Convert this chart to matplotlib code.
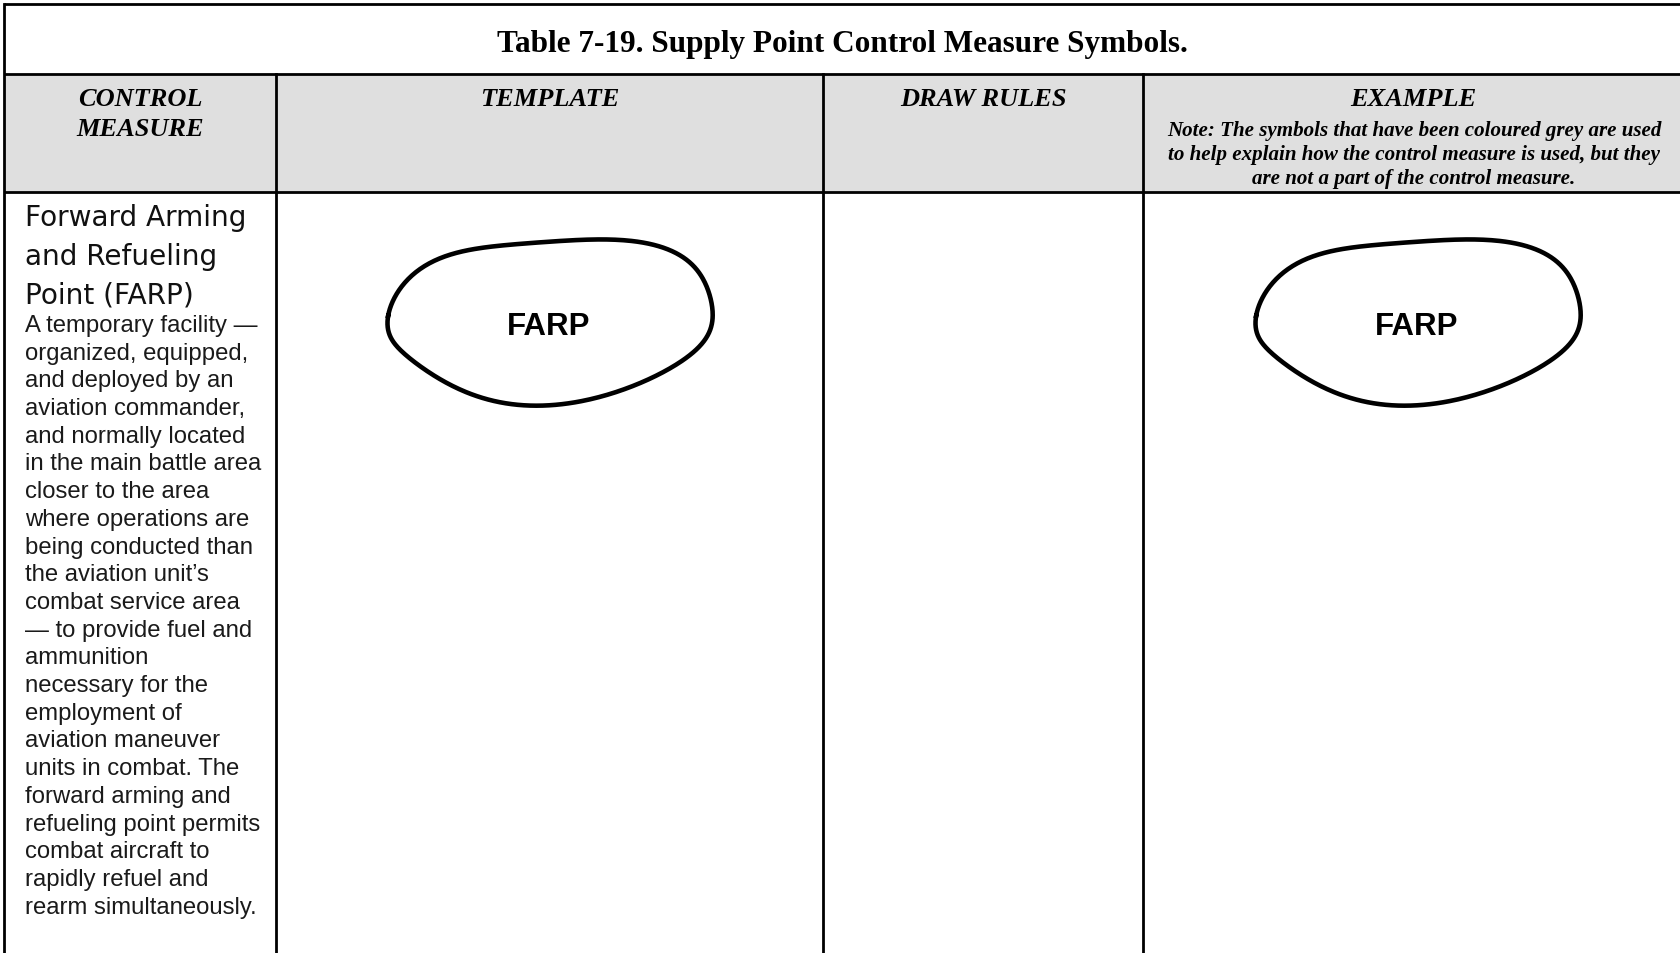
import numpy as np
import matplotlib
matplotlib.use("Agg")
import matplotlib.pyplot as plt

# ---- table content ----
title = "Table 7-19. Supply Point Control Measure Symbols."
headers = ["CONTROL", "TEMPLATE", "DRAW RULES", "EXAMPLE"]
header_second = "MEASURE"
note_lines = [
    "Note: The symbols that have been coloured grey are used",
    "to help explain how the control measure is used, but they",
    "are not a part of the control measure.",
]
measure_name = ["Forward Arming", "and Refueling", "Point (FARP)"]
measure_desc = [
    "A temporary facility \u2014",
    "organized, equipped,",
    "and deployed by an",
    "aviation commander,",
    "and normally located",
    "in the main battle area",
    "closer to the area",
    "where operations are",
    "being conducted than",
    "the aviation unit\u2019s",
    "combat service area",
    "\u2014 to provide fuel and",
    "ammunition",
    "necessary for the",
    "employment of",
    "aviation maneuver",
    "units in combat. The",
    "forward arming and",
    "refueling point permits",
    "combat aircraft to",
    "rapidly refuel and",
    "rearm simultaneously.",
]
symbol_label = "FARP"

# outline of the irregular area symbol, offsets from its label centre (px)
blob_x = [-161, -128, -50, 40, 118, 155, 163, 135, 60, -25, -100, -148]
blob_y = [-5, -55, -76, -82, -74, -40, 0, 38, 72, 84, 62, 28]

# ---- layout (pixels) ----
W, H = 1681, 954
col_x = [4, 276, 823, 1143, 1683]
row_y = [5, 75, 193]
header_bg = "#dfdfdf"
line_w = 2.0
serif = "Liberation Serif"


def closed_spline(xs, ys, n=40, keep=6):
    p = np.column_stack([xs, ys]).astype(float)
    m = len(p)
    t = np.linspace(0, 1, n, endpoint=False)[:, None]
    segs = []
    for i in range(m):
        p0, p1, p2, p3 = p[i - 1], p[i], p[(i + 1) % m], p[(i + 2) % m]
        segs.append(0.5 * (2 * p1 + (-p0 + p2) * t
                           + (2 * p0 - 5 * p1 + 4 * p2 - p3) * t ** 2
                           + (-p0 + 3 * p1 - 3 * p2 + p3) * t ** 3))
    out = np.vstack(segs)
    # low-pass the closed outline to take out small kinks
    z = out[:, 0] + 1j * out[:, 1]
    f = np.fft.fft(z)
    f[keep + 1:len(f) - keep] = 0
    z = np.fft.ifft(f)
    z = np.append(z, z[0])
    return z.real, z.imag


fig = plt.figure(figsize=(W / 100, H / 100), dpi=100)
ax = fig.add_axes([0, 0, 1, 1])
ax.set_xlim(0, W)
ax.set_ylim(H, 0)
ax.axis("off")

# header background
ax.fill_between([col_x[0], col_x[-1]], row_y[1], row_y[2], color=header_bg, lw=0)

# grid lines
for y in row_y:
    ax.plot([col_x[0], col_x[-1]], [y, y], color="black", lw=line_w, solid_capstyle="butt")
ax.plot([col_x[0], col_x[0]], [row_y[0], H], color="black", lw=line_w)
for x in col_x[1:4]:
    ax.plot([x, x], [row_y[1], H], color="black", lw=line_w)

# title
ax.text(842, 52, title, ha="center", va="baseline", family=serif,
        fontweight="bold", fontsize=22.5)

# column headers
centers = [(col_x[i] + col_x[i + 1]) / 2 for i in range(4)]
for cx, lab in zip(centers, headers):
    ax.text(cx, 106, lab, ha="center", va="baseline", family=serif,
            fontweight="bold", fontstyle="italic", fontsize=19)
ax.text(centers[0], 136, header_second, ha="center", va="baseline", family=serif,
        fontweight="bold", fontstyle="italic", fontsize=19)
for i, ln in enumerate(note_lines):
    ax.text(1414, 136 + 24 * i, ln, ha="center", va="baseline", family=serif,
            fontweight="bold", fontstyle="italic", fontsize=15.1)

# control measure description
for i, ln in enumerate(measure_name):
    ax.text(25, 226 + 38.6 * i, ln, ha="left", va="baseline",
            family="DejaVu Sans", fontsize=20.2, color="#111111")
for i, ln in enumerate(measure_desc):
    ax.text(25, 332 + 27.7 * i, ln, ha="left", va="baseline",
            family="Liberation Sans", fontsize=17.2, color="#1a1a1a")

# template and example symbols
bx, by = closed_spline(blob_x, blob_y)
for cx in [549, 1417]:
    cy = 323
    ax.plot(bx + cx, by + cy, color="black", lw=3.3, solid_joinstyle="round")
    ax.text(cx, cy + 12, symbol_label, ha="center", va="baseline",
            family="Liberation Sans", fontweight="bold", fontsize=22.5)

fig.savefig("out.png", dpi=100)
